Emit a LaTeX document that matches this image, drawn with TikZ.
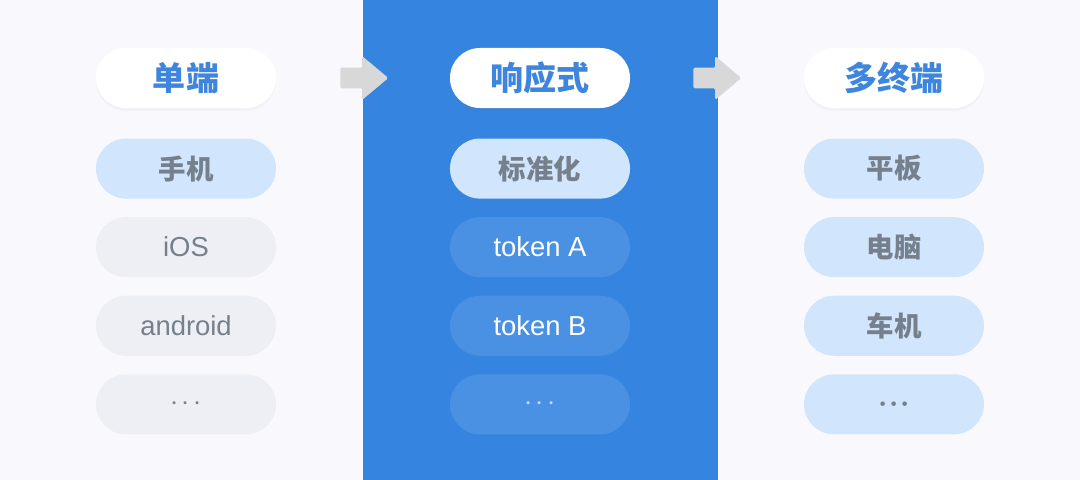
\documentclass[tikz,border=0pt]{standalone}
\usepackage{fontspec}
\usepackage{amsmath}
\setmainfont{Liberation Sans}
\newfontfamily\cjk{Noto Sans CJK SC}
\usetikzlibrary{positioning,shapes.arrows,shadows}
\definecolor{paper}    {HTML}{F9F9FD}
\definecolor{panelblue}{HTML}{3584DF}
\definecolor{tokenblue}{HTML}{4A91E3}
\definecolor{paleblue} {HTML}{D1E5FD}
\definecolor{palegrey} {HTML}{EEEFF4}
\definecolor{headblue} {HTML}{3E86DD}
\definecolor{labelgrey}{HTML}{75808C}
\definecolor{arrowgrey}{HTML}{D8D8D8}
\newcommand{\moredots}{${\cdot}\mkern2mu{\cdot}\mkern2mu{\cdot}$}
\newcommand{\boldmoredots}{${\boldsymbol{\cdot}}\mkern1mu{\boldsymbol{\cdot}}\mkern1mu{\boldsymbol{\cdot}}$}
\tikzset{ % pills and arrows
pill/.style={rounded corners=0.75cm, minimum width=4.5cm, minimum height=1.5cm, inner sep=0pt},
head/.style={pill, fill=white, text=headblue, font=\cjk\bfseries\fontsize{23.5}{24}\selectfont,
  drop shadow={opacity=0.05, shadow xshift=0pt, shadow yshift=-2pt}},
hot/.style={pill, fill=paleblue, text=labelgrey, font=\cjk\bfseries\fontsize{19.5}{20}\selectfont},
plain/.style={pill, fill=palegrey, text=labelgrey, font=\fontsize{19.5}{20}\selectfont},
token/.style={pill, fill=tokenblue, text=white, font=\fontsize{19.5}{20}\selectfont},
greyarrow/.style={single arrow, fill=arrowgrey, inner sep=0.25cm, minimum height=1.2cm, anchor=tail,
  single arrow head extend=0.29cm, single arrow tip angle=80, rounded corners=1pt},
}
\begin{document}
\begin{tikzpicture}[x=0.025cm, y=-0.025cm, node distance=0.45cm]
            \fill [paper] (0,0) rectangle (1080,480);
            \useasboundingbox (0,0) rectangle (1080,480);
            \fill [panelblue] (363,0) rectangle (718,480);

            \node [head] (single) at (186,78) {单端};
            \node [hot, below=0.75cm of single] (phone) {手机};
            \node [plain, below=of phone] (ios) {iOS};
            \node [plain, below=of ios] (android) {android};
            \node [plain, below=of android] (moreleft) {\moredots};

            \node [head] (responsive) at (540,78) {响应式};
            \node [hot, below=0.75cm of responsive] (standard) {标准化};
            \node [token, below=of standard] (tokena) {token A};
            \node [token, below=of tokena] (tokenb) {token B};
            \node [token, text=white!70!tokenblue, below=of tokenb] (moremid) {\moredots};

            \node [head] (multi) at (894,78) {多终端};
            \node [hot, below=0.75cm of multi] (pad) {平板};
            \node [hot, below=of pad] (pc) {电脑};
            \node [hot, below=of pc] (car) {车机};
            \node [hot, below=of car] (moreright) {\boldmoredots};

            \node [greyarrow] (arrowa) at (340,78) {};
            \node [greyarrow] (arrowb) at (693,78) {};
        \end{tikzpicture}
\end{document}
